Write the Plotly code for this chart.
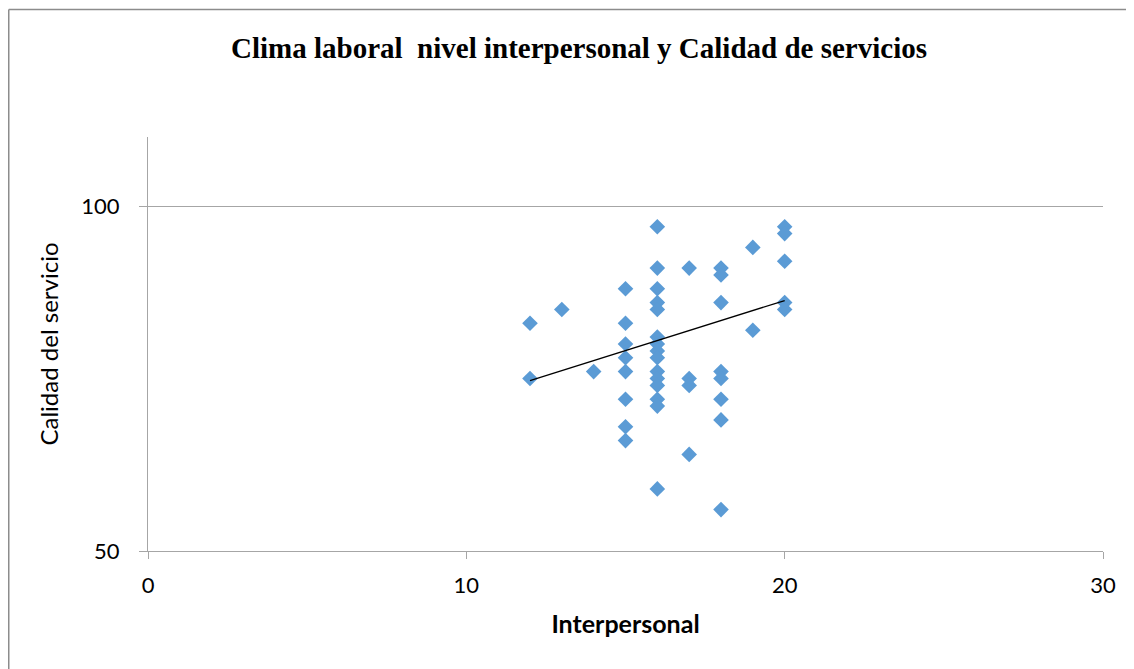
import plotly.graph_objects as go

# Data
interpersonal = [12, 12, 13, 14,
                 15, 15, 15, 15, 15, 15, 15, 15,
                 16, 16, 16, 16, 16, 16, 16, 16, 16, 16, 16, 16, 16, 16, 16,
                 17, 17, 17, 17,
                 18, 18, 18, 18, 18, 18, 18, 18,
                 19, 19,
                 20, 20, 20, 20, 20]
calidad = [83, 75, 85, 76,
           88, 83, 80, 78, 76, 72, 68, 66,
           97, 91, 88, 86, 85, 81, 80, 79, 78, 76, 75, 74, 72, 71, 59,
           91, 75, 74, 64,
           91, 90, 86, 76, 75, 72, 69, 56,
           94, 82,
           97, 96, 92, 86, 85]

# linear trend line end points
trend_x = [12, 20]
trend_y = [74.7, 86.3]

title_text = "Clima laboral  nivel interpersonal y Calidad de servicios"
x_title = "Interpersonal"
y_title = "Calidad del servicio"
x_ticks = [0, 10, 20, 30]
y_ticks = [50, 100]

fig = go.Figure()
fig.add_trace(go.Scatter(
    x=interpersonal, y=calidad, mode="markers",
    marker=dict(symbol="diamond", size=12, color="#5B9BD5", line=dict(width=0)),
    showlegend=False, hoverinfo="x+y"))
fig.add_trace(go.Scatter(
    x=trend_x, y=trend_y, mode="lines",
    line=dict(color="black", width=1.3), showlegend=False, hoverinfo="skip"))

# page has an 8px body margin, so the figure is offset by 8px
W, H = 1126, 661
L, R, T, B = 140, 31, 129, 118
pw, ph = W - L - R, H - T - B

fig.update_layout(
    width=W, height=H,
    margin=dict(l=L, r=R, t=T, b=B),
    paper_bgcolor="white", plot_bgcolor="white",
    title=dict(text=title_text, x=571 / W, xanchor="center", y=1 - 40 / H, yanchor="middle",
               font=dict(family="Liberation Serif", size=29, color="black", weight="bold")),
    xaxis=dict(range=[0, 30], tickvals=x_ticks, showgrid=False, zeroline=False,
               showline=True, linecolor="#A6A6A6", linewidth=1,
               ticks="outside", ticklen=7, tickcolor="#A6A6A6",
               tickfont=dict(family="Lato", size=22, color="black"),
               ticklabelstandoff=8,
               title=dict(text=x_title, standoff=18,
                          font=dict(family="Lato", size=25, color="black", weight="bold"))),
    yaxis=dict(range=[50, 110], tickvals=y_ticks, showgrid=True, gridcolor="#A6A6A6",
               gridwidth=1, zeroline=False,
               showline=True, linecolor="#A6A6A6", linewidth=1,
               ticks="outside", ticklen=8, tickcolor="#A6A6A6",
               tickfont=dict(family="Lato", size=22, color="black"),
               ticklabelstandoff=15,
               title=dict(text=y_title, standoff=15,
                          font=dict(family="Lato", size=24, color="black"))),
)

# outer chart border (left and top edges only; cropped on right and bottom)
x_left = (0.75 - L) / pw
y_top = (H - B - 1.5) / ph
border = dict(color="#8C8C8C", width=1.5)
fig.add_shape(type="line", xref="paper", yref="paper",
              x0=x_left, x1=x_left, y0=-B / ph, y1=y_top, line=border)
fig.add_shape(type="line", xref="paper", yref="paper",
              x0=x_left, x1=(W - L) / pw, y0=y_top, y1=y_top, line=border)

fig.write_html("out.html")
